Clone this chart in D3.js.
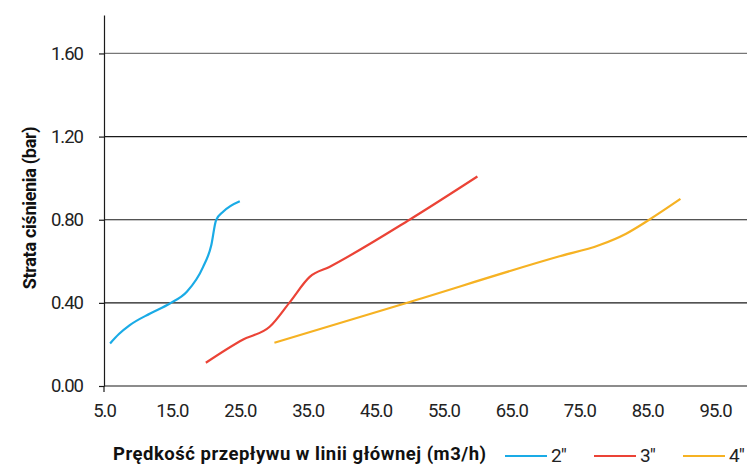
<!DOCTYPE html>
<html><head><meta charset="utf-8">
<script src="https://cdn.jsdelivr.net/npm/d3@7"></script>
<style>
body{margin:0;background:#fff;}
svg{display:block;font-family:Roboto, "DejaVu Sans", sans-serif;}
</style></head>
<body><svg id="c" width="747" height="466"></svg>
<script>
const xTicks = [5,15,25,35,45,55,65,75,85,95];
const yTicks = [0,0.4,0.8,1.2,1.6];
const seriesNames = ['2"','3"','4"'];
const seriesColors = ["#1aabe6","#eb4336","#f6b223"];
const s2x = [5.9, 7.2, 8.8, 11.8, 14.7, 17.2, 19.6, 20.8, 21.5, 22.5, 25.0];
const s2y = [0.205, 0.25, 0.293, 0.349, 0.397, 0.453, 0.573, 0.677, 0.797, 0.837, 0.889];
const s3x = [20.0,25.5,29.4,32.4,35.3,38.2,50.0,60.0];
const s3y = [0.112,0.224,0.285,0.405,0.525,0.573,0.80,1.008];
const s4x = [30.1,49.3,72.1,77.9,81.9,85.3,89.9];
const s4y = [0.208,0.397,0.624,0.677,0.733,0.80,0.90];
const xTitle = "Prędkość przepływu w linii głównej (m3/h)";
const yTitle = "Strata ciśnienia (bar)";

const svg = d3.select("#c");
const x = d3.scaleLinear().domain([5,100]).range([104,749]);
const y = d3.scaleLinear().domain([0,1.785]).range([386,15]);

// gridlines
svg.append("g").selectAll("line").data(yTicks.filter(d=>d>0)).join("line")
  .attr("x1",x(5)).attr("x2",747).attr("y1",d=>y(d)).attr("y2",d=>y(d))
  .attr("stroke",d=>d===1.6?"#777":"#1a1a1a").attr("stroke-width",1.2);

// y axis
const ya = svg.append("g").attr("transform",`translate(${x(5)},0)`)
  .call(d3.axisLeft(y).tickValues(yTicks).tickFormat(d3.format(".2f")).tickSize(5).tickSizeOuter(0).tickPadding(16));
ya.select(".domain").attr("stroke","#1a1a1a").attr("stroke-width",1.2);
ya.selectAll(".tick line").attr("stroke","#1a1a1a").attr("stroke-width",1.2);
ya.selectAll("text").attr("font-size",18.5).attr("fill","#222").attr("letter-spacing","-1px").attr("font-family","Roboto");

// x axis
const xa = svg.append("g").attr("transform",`translate(0,${y(0)})`)
  .call(d3.axisBottom(x).tickValues(xTicks).tickFormat(d3.format(".1f")).tickSize(0).tickSizeOuter(0).tickPadding(18));
xa.select(".domain").attr("stroke","#1a1a1a").attr("stroke-width",1.2).attr("d",`M${x(5)},0H747`);
xa.selectAll("text").attr("font-size",18.5).attr("fill","#222").attr("letter-spacing","-1px").attr("font-family","Roboto");
xa.append("line").attr("x1",x(5)).attr("x2",x(5)).attr("y1",0).attr("y2",6).attr("stroke","#1a1a1a").attr("stroke-width",1.2);

// lines
const series = [
  s2x.map((v,i)=>[v,s2y[i]]),
  s3x.map((v,i)=>[v,s3y[i]]),
  s4x.map((v,i)=>[v,s4y[i]])
];
const line = d3.line().x(d=>x(d[0])).y(d=>y(d[1])).curve(d3.curveMonotoneX);
svg.append("g").selectAll("path").data(series).join("path")
  .attr("d",line).attr("fill","none").attr("stroke",(d,i)=>seriesColors[i]).attr("stroke-width",2.2);

// titles
svg.append("text").attr("transform","translate(36,208) rotate(-90)").attr("text-anchor","middle")
  .attr("font-size",18).attr("font-weight","bold").attr("fill","#111").attr("letter-spacing","-0.3px").text(yTitle);
svg.append("text").attr("x",113).attr("y",460).attr("font-size",18.5).attr("font-weight","bold").attr("fill","#111").attr("letter-spacing","0.5px").text(xTitle);

// legend
const legX = [505,594,683];
const lg = svg.append("g").selectAll("g").data(seriesNames).join("g").attr("transform",(d,i)=>`translate(${legX[i]},456)`);
lg.append("line").attr("x1",0).attr("x2",42).attr("stroke",(d,i)=>seriesColors[i]).attr("stroke-width",2);
lg.append("text").attr("x",46).attr("y",6).attr("font-size",19).attr("fill","#222").attr("letter-spacing","-1px").text(d=>d);
</script></body></html>
